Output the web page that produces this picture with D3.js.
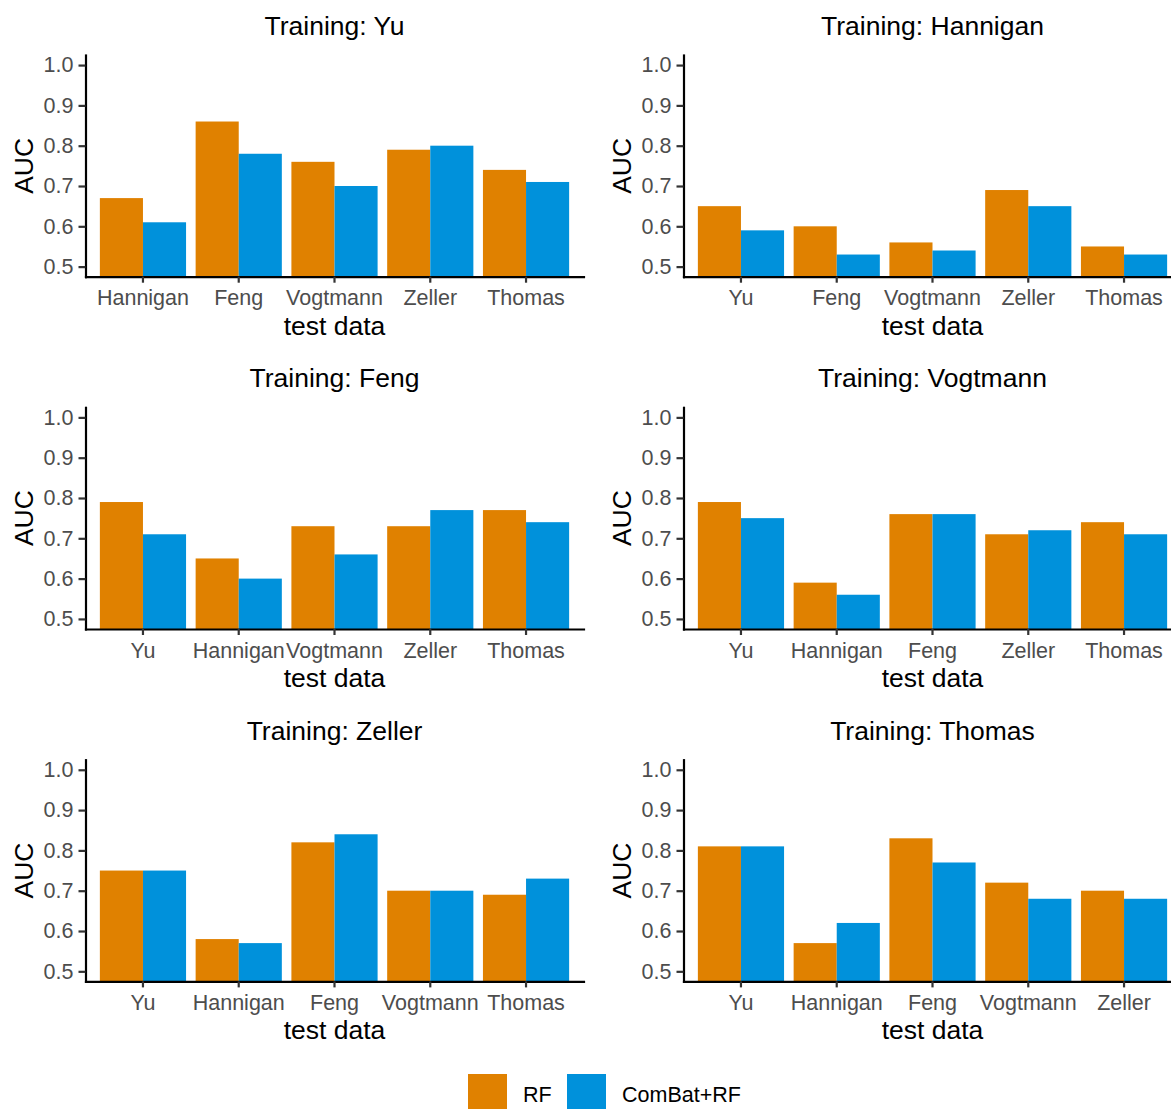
<!DOCTYPE html>
<html>
<head>
<meta charset="utf-8">
<script src="https://cdn.jsdelivr.net/npm/d3@7"></script>
<style>
  html, body { margin: 0; padding: 0; background: #ffffff; }
  svg { display: block; font-family: "Liberation Sans", Arial, Helvetica, sans-serif; }
</style>
</head>
<body>
<svg id="chart" width="1171" height="1109"></svg>
<script>
// Cross-study AUC: a model trained on one cohort, tested on each of the others
const trainingSets = ["Yu", "Hannigan", "Feng", "Vogtmann", "Zeller", "Thomas"];

const testSets = [
  ["Hannigan", "Feng", "Vogtmann", "Zeller", "Thomas"],
  ["Yu", "Feng", "Vogtmann", "Zeller", "Thomas"],
  ["Yu", "Hannigan", "Vogtmann", "Zeller", "Thomas"],
  ["Yu", "Hannigan", "Feng", "Zeller", "Thomas"],
  ["Yu", "Hannigan", "Feng", "Vogtmann", "Thomas"],
  ["Yu", "Hannigan", "Feng", "Vogtmann", "Zeller"]
];

const rfAUC = [
  [0.67, 0.86, 0.76, 0.79, 0.74],
  [0.65, 0.60, 0.56, 0.69, 0.55],
  [0.79, 0.65, 0.73, 0.73, 0.77],
  [0.79, 0.59, 0.76, 0.71, 0.74],
  [0.75, 0.58, 0.82, 0.70, 0.69],
  [0.81, 0.57, 0.83, 0.72, 0.70]
];

const combatAUC = [
  [0.61, 0.78, 0.70, 0.80, 0.71],
  [0.59, 0.53, 0.54, 0.65, 0.53],
  [0.71, 0.60, 0.66, 0.77, 0.74],
  [0.75, 0.56, 0.76, 0.72, 0.71],
  [0.75, 0.57, 0.84, 0.70, 0.73],
  [0.81, 0.62, 0.77, 0.68, 0.68]
];

const seriesNames = ["RF", "ComBat+RF"];
const seriesColors = ["#E08100", "#0091DB"];
const yTicks = [0.5, 0.6, 0.7, 0.8, 0.9, 1.0];
const yDomain = [0.475, 1.025];

const svg = d3.select("#chart");
svg.append("rect").attr("width", 1171).attr("height", 1109).attr("fill", "#ffffff");

const colorScale = d3.scaleOrdinal().domain(seriesNames).range(seriesColors);

// facet layout
const plotW = 498, plotH = 221.7;
const colLeft = [85.5, 683.5];
const rowTop = [55, 407.3, 759.7];

trainingSets.forEach((train, i) => {
  const col = i % 2, row = Math.floor(i / 2);
  const x0 = colLeft[col], y0 = rowTop[row];
  const g = svg.append("g").attr("transform", `translate(${x0},${y0})`);

  const rows = testSets[i].map((t, j) => ({
    test: t,
    values: [
      { series: seriesNames[0], value: rfAUC[i][j] },
      { series: seriesNames[1], value: combatAUC[i][j] }
    ]
  }));

  const x = d3.scaleBand()
    .domain(testSets[i])
    .range([0, plotW])
    .paddingInner(0.1)
    .paddingOuter(0.15);
  const xs = d3.scaleBand().domain(seriesNames).range([0, x.bandwidth()]);
  const y = d3.scaleLinear().domain(yDomain).range([plotH, 0]);

  // bars
  g.selectAll("g.grp")
    .data(rows)
    .join("g")
    .attr("class", "grp")
    .attr("transform", d => `translate(${x(d.test)},0)`)
    .selectAll("rect")
    .data(d => d.values)
    .join("rect")
    .attr("x", d => xs(d.series))
    .attr("width", xs.bandwidth())
    .attr("y", d => y(d.value))
    .attr("height", d => y(yDomain[0]) - y(d.value))
    .attr("fill", d => colorScale(d.series));

  // y axis
  const ya = g.append("g")
    .call(d3.axisLeft(y).tickValues(yTicks).tickFormat(d3.format(".1f"))
      .tickSize(7).tickSizeOuter(0).tickPadding(5));
  // x axis
  const xa = g.append("g")
    .attr("transform", `translate(0,${plotH})`)
    .call(d3.axisBottom(x).tickSize(6).tickSizeOuter(0).tickPadding(7.5));

  [ya, xa].forEach(a => {
    a.select(".domain").attr("stroke", "#000").attr("stroke-width", 2.2).attr("stroke-linecap", "square");
    a.selectAll(".tick line").attr("stroke", "#333333").attr("stroke-width", 2.2);
    a.selectAll(".tick text")
      .attr("fill", "#4D4D4D")
      .attr("font-size", "21.5px")
      .attr("font-family", "'Liberation Sans', Arial, sans-serif");
  });

  // panel title
  g.append("text")
    .attr("x", plotW / 2)
    .attr("y", -20)
    .attr("text-anchor", "middle")
    .attr("font-size", "26.5px")
    .attr("fill", "#000")
    .text(`Training: ${train}`);

  // axis titles
  g.append("text")
    .attr("x", plotW / 2)
    .attr("y", plotH + 58)
    .attr("text-anchor", "middle")
    .attr("font-size", "26.5px")
    .attr("fill", "#000")
    .text("test data");

  g.append("text")
    .attr("transform", `translate(${-53},${plotH / 2}) rotate(-90)`)
    .attr("text-anchor", "middle")
    .attr("font-size", "26.5px")
    .attr("fill", "#000")
    .text("AUC");
});

// legend
const legend = svg.append("g").attr("transform", "translate(468,1074)");
const legendX = [0, 99];
seriesNames.forEach((s, k) => {
  const lg = legend.append("g").attr("transform", `translate(${legendX[k]},0)`);
  lg.append("rect").attr("width", 39).attr("height", 39).attr("fill", colorScale(s));
  lg.append("text")
    .attr("x", 55)
    .attr("y", 28)
    .attr("font-size", "21.5px")
    .attr("fill", "#000")
    .text(s);
});
</script>
</body>
</html>
